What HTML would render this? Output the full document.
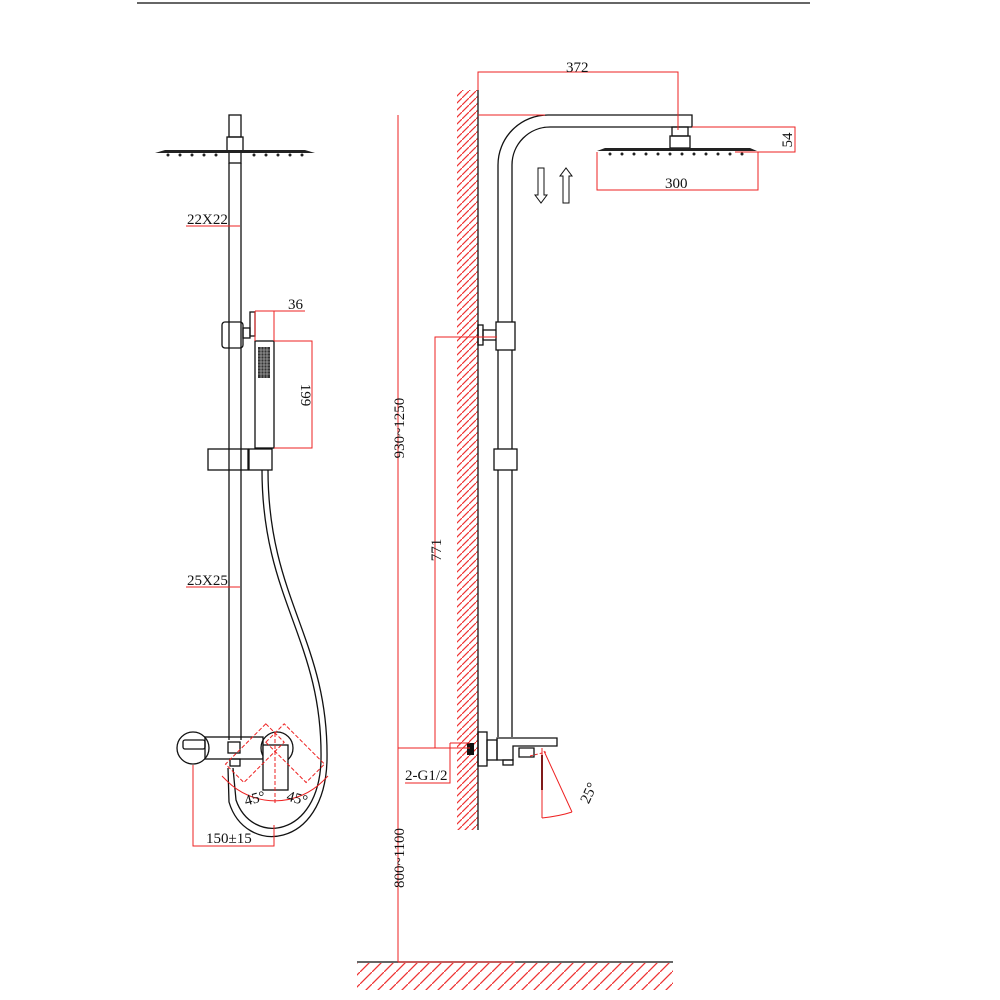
<!DOCTYPE html>
<html><head><meta charset="utf-8"><style>
html,body{margin:0;padding:0;background:#fff;}
svg{display:block}
text{font-family:"Liberation Serif",serif;font-size:15px;fill:#111}
</style></head><body>
<svg width="1000" height="1000" viewBox="0 0 1000 1000" xmlns="http://www.w3.org/2000/svg">
<defs>
<pattern id="hw" patternUnits="userSpaceOnUse" width="7" height="7">
<line x1="0" y1="7" x2="7" y2="0" stroke="#e33" stroke-width="1.2"/>
</pattern>
<pattern id="hf" patternUnits="userSpaceOnUse" width="12" height="12">
<line x1="0" y1="12" x2="12" y2="0" stroke="#e33" stroke-width="1.3"/>
</pattern>
</defs>
<line x1="137" y1="3" x2="810" y2="3" stroke="#333" stroke-width="1.5"/>

<!-- LEFT VIEW -->
<g fill="none" stroke="#111" stroke-width="1.3">
<rect x="229" y="115" width="12" height="22"/>
<rect x="227" y="137" width="16" height="15"/>
<rect x="229" y="152" width="12" height="11"/>
<line x1="229" y1="163" x2="229" y2="740"/>
<line x1="241" y1="163" x2="241" y2="740"/>
<rect x="222" y="322" width="21" height="26" rx="3"/>
<rect x="243" y="328" width="7" height="10"/>
<rect x="250" y="312" width="5" height="24"/>
<rect x="255" y="341" width="19" height="107"/>
<rect x="208" y="449" width="40" height="21"/>
<rect x="249" y="449" width="23" height="21"/>
<path d="M262,470 C262,600 323,640 321,760 C319,838 252,846 236,800 L233,768"/>
<path d="M268,470 C268,600 329,640 327,760 C325,850 245,856 229,802 L228,768"/>
<circle cx="193" cy="748" r="16"/>
<rect x="183" y="740" width="22" height="9" rx="2"/>
<rect x="205" y="737" width="58" height="22"/>
<rect x="228" y="742" width="12" height="11"/>
<rect x="230" y="759" width="10" height="7"/>
<circle cx="277" cy="748" r="16"/>
<rect x="263" y="745" width="25" height="45" fill="#fff"/>
</g>
<rect x="258" y="347" width="12" height="31" fill="#333"/>
<path d="M258,350 H270 M258,353 H270 M258,356 H270 M258,359 H270 M258,362 H270 M258,365 H270 M258,368 H270 M258,371 H270 M258,374 H270 M261,347 V378 M264,347 V378 M267,347 V378" stroke="#ccc" stroke-width="0.6"/>
<path d="M155,153 L165,150 H305 L315,153 Z" fill="#222"/>
<g fill="#222"><circle cx="168" cy="155" r="1.5"/><circle cx="180" cy="155" r="1.5"/><circle cx="192" cy="155" r="1.5"/><circle cx="204" cy="155" r="1.5"/><circle cx="216" cy="155" r="1.5"/><circle cx="254" cy="155" r="1.5"/><circle cx="266" cy="155" r="1.5"/><circle cx="278" cy="155" r="1.5"/><circle cx="290" cy="155" r="1.5"/><circle cx="302" cy="155" r="1.5"/></g>
<!-- left red dims -->
<g fill="none" stroke="#e22" stroke-width="1">
<line x1="186" y1="226" x2="240" y2="226"/>
<line x1="186" y1="587" x2="240" y2="587"/>
<path d="M255,311 H305 M255,311 V341 M274,311 V341"/>
<path d="M274,341 H312 V448 H274"/>
<path d="M193,765 V846 H274 V825"/>
<g stroke-dasharray="4,2">
<rect x="262" y="733" width="26" height="57" transform="rotate(45 275 733)"/>
<rect x="262" y="733" width="26" height="57" transform="rotate(-45 275 733)"/>
<line x1="275" y1="733" x2="275" y2="805"/>
</g>
<path d="M227,781 A68,68 0 0 0 323,781"/>
<line x1="227" y1="781" x2="222" y2="776"/>
<line x1="323" y1="781" x2="328" y2="776"/>
</g>
<text x="187" y="224">22X22</text>
<text x="187" y="585">25X25</text>
<text x="288" y="309">36</text>
<text x="0" y="0" transform="translate(301,395) rotate(90)" text-anchor="middle">199</text>
<text x="0" y="0" transform="translate(256,803) rotate(-15)" text-anchor="middle">45°</text>
<text x="0" y="0" transform="translate(296,803) rotate(15)" text-anchor="middle">45°</text>
<text x="206" y="843">150±15</text>

<!-- RIGHT VIEW -->
<rect x="457" y="90" width="21" height="740" fill="url(#hw)"/>
<line x1="478" y1="90" x2="478" y2="830" stroke="#333" stroke-width="1.5"/>
<rect x="357" y="963" width="316" height="27" fill="url(#hf)"/>
<line x1="357" y1="962" x2="673" y2="962" stroke="#333" stroke-width="1.5"/>
<g fill="none" stroke="#111" stroke-width="1.3">
<path d="M498,737 V165 A50,50 0 0 1 548,115 H692 V127 H550 A38,38 0 0 0 512,165 V737"/>
<rect x="672" y="127" width="16" height="9"/>
<rect x="670" y="136" width="20" height="12"/>
<rect x="478" y="325" width="5" height="20"/>
<rect x="483" y="330" width="14" height="10"/>
<rect x="496" y="322" width="19" height="28" fill="#fff"/>
<rect x="494" y="449" width="23" height="21" fill="#fff"/>
<rect x="478" y="732" width="9" height="34"/>
<rect x="487" y="740" width="10" height="20"/>
<path d="M497,738 H557 V746 H513 V760 H497 Z"/>
<rect x="503" y="760" width="10" height="5"/>
<path d="M519,748 H534 V757 H519 Z"/>
</g>
<path d="M597,151 L605,148 H750 L757,151 Z" fill="#222"/>
<g fill="#222"><circle cx="610" cy="154" r="1.5"/><circle cx="622" cy="154" r="1.5"/><circle cx="634" cy="154" r="1.5"/><circle cx="646" cy="154" r="1.5"/><circle cx="658" cy="154" r="1.5"/><circle cx="670" cy="154" r="1.5"/><circle cx="682" cy="154" r="1.5"/><circle cx="694" cy="154" r="1.5"/><circle cx="706" cy="154" r="1.5"/><circle cx="718" cy="154" r="1.5"/><circle cx="730" cy="154" r="1.5"/><circle cx="742" cy="154" r="1.5"/></g>
<rect x="467" y="743" width="7" height="12" fill="#111"/>
<line x1="542" y1="755" x2="542" y2="790" stroke="#111" stroke-width="2"/>
<!-- arrows -->
<g fill="none" stroke="#111" stroke-width="1">
<path d="M538,168 V195 H535 L541,203 L547,195 H544 V168 Z"/>
<path d="M563,203 V176 H560 L566,168 L572,176 H569 V203 Z"/>
</g>
<!-- right red dims -->
<g fill="none" stroke="#e22" stroke-width="1">
<path d="M478,90 V72 H678 V130"/>
<line x1="478" y1="115" x2="545" y2="115"/>
<path d="M692,127 H795 V152 H735"/>
<path d="M597,152 V190 H758 V152"/>
<line x1="398" y1="115" x2="398" y2="962"/>
<line x1="398" y1="962" x2="515" y2="962"/>
<path d="M398,748 H470 M435,748 V337 H497"/>
<path d="M450,743 V783 H405"/>
<line x1="450" y1="743" x2="470" y2="743"/>
<path d="M542,748 V818 M544,751 L572,812 M542,818 Q560,816 572,812"/>
<line x1="530" y1="756" x2="546" y2="752" stroke-dasharray="3,2"/>
</g>
<text x="566" y="72">372</text>
<text x="0" y="0" transform="translate(792,140) rotate(-90)" text-anchor="middle">54</text>
<text x="665" y="188">300</text>
<text x="0" y="0" transform="translate(404,428) rotate(-90)" text-anchor="middle">930~1250</text>
<text x="0" y="0" transform="translate(441,550) rotate(-90)" text-anchor="middle">771</text>
<text x="0" y="0" transform="translate(404,858) rotate(-90)" text-anchor="middle">800~1100</text>
<text x="405" y="780">2-G1/2</text>
<text x="0" y="0" transform="translate(593,795) rotate(-65)" text-anchor="middle">25°</text>
</svg>
</body></html>
